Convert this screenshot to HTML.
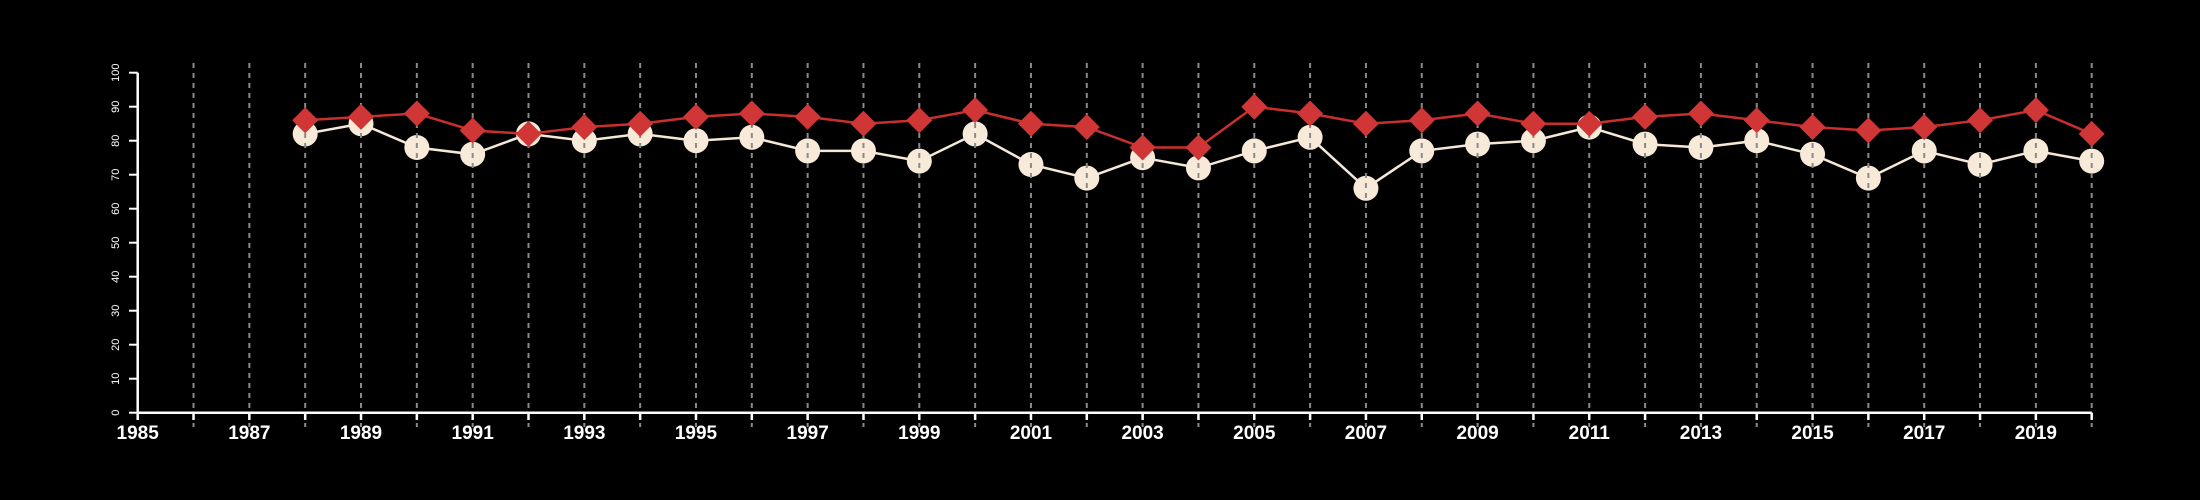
<!DOCTYPE html>
<html><head><meta charset="utf-8"><style>
html,body{margin:0;padding:0;background:#000;}
svg{display:block;}
</style></head><body>
<svg id="chart" width="2200" height="500" xmlns="http://www.w3.org/2000/svg">
<rect width="2200" height="500" fill="#000"/>
<g id="gWhite"></g><g id="gGrid"></g><g id="gRed"></g><g id="gAxes"></g>
</svg>
<script>
const years = [1988,1989,1990,1991,1992,1993,1994,1995,1996,1997,1998,1999,2000,2001,2002,2003,2004,2005,2006,2007,2008,2009,2010,2011,2012,2013,2014,2015,2016,2017,2018,2019,2020];
const redSeries = [86,87,88,83,82,84,85,87,88,87,85,86,89,85,84,78,78,90,88,85,86,88,85,85,87,88,86,84,83,84,86,89,82];
const whiteSeries = [82,85,78,76,82,80,82,80,81,77,77,74,82,73,69,75,72,77,81,66,77,79,80,84,79,78,80,76,69,77,73,77,74];
const yTicks = [0,10,20,30,40,50,60,70,80,90,100];
const xTickYears = [1985,1986,1987,1988,1989,1990,1991,1992,1993,1994,1995,1996,1997,1998,1999,2000,2001,2002,2003,2004,2005,2006,2007,2008,2009,2010,2011,2012,2013,2014,2015,2016,2017,2018,2019,2020];
const xLabelYears = [1985,1987,1989,1991,1993,1995,1997,1999,2001,2003,2005,2007,2009,2011,2013,2015,2017,2019];

const NS="http://www.w3.org/2000/svg";
const x0=137.7, x1=2091.7, yr0=1985, yr1=2020;
const yb=412.7, yt=72.7;
const X=v=>x0+(v-yr0)/(yr1-yr0)*(x1-x0);
const Y=v=>yb-(v/100)*(yb-yt);
function mk(tag,attrs,parent){const e=document.createElementNS(NS,tag);for(const k in attrs)e.setAttribute(k,attrs[k]);parent.appendChild(e);return e;}

const gW=document.getElementById('gWhite'),gG=document.getElementById('gGrid'),gR=document.getElementById('gRed'),gA=document.getElementById('gAxes');

// white series
let pw=mk('polyline',{points:years.map((y,i)=>X(y)+','+Y(whiteSeries[i])).join(' '),fill:'none',stroke:'#f5e8d6','stroke-width':2.5},gW);


years.forEach((y,i)=>{
  const c=mk('circle',{cx:X(y),cy:Y(whiteSeries[i]),r:12.5,fill:'#f8ead8'},gW);
  
  
});

// grid
xTickYears.slice(1).forEach(y=>{
  const l=mk('line',{x1:X(y),x2:X(y),y1:63,y2:427,stroke:'#8a8a8a','stroke-width':2,'stroke-dasharray':'5,5'},gG);
  
  
});

// red series
let pr=mk('polyline',{points:years.map((y,i)=>X(y)+','+Y(redSeries[i])).join(' '),fill:'none',stroke:'#c92f2f','stroke-width':2.5},gR);


years.forEach((y,i)=>{
  const cx=X(y),cy=Y(redSeries[i]),d=13;
  const p=mk('polygon',{points:`${cx},${cy-d} ${cx+d},${cy} ${cx},${cy+d} ${cx-d},${cy}`,fill:'#d03636'},gR);
  
  
});

// axes
let ax=mk('line',{x1:x0,x2:x1,y1:yb,y2:yb,stroke:'#fff','stroke-width':2.5},gA);


let ay=mk('line',{x1:x0,x2:x0,y1:yt,y2:yb,stroke:'#fff','stroke-width':2.5},gA);


xTickYears.forEach(y=>{
  const t=mk('line',{x1:X(y),x2:X(y),y1:yb,y2:420,stroke:'#fff','stroke-width':2.5},gA);
  
  
});
xLabelYears.forEach(y=>{
  const t=mk('text',{x:X(y),y:439,'text-anchor':'middle',fill:'#fff','font-family':'Liberation Sans, sans-serif','font-size':19,'font-weight':'bold'},gA);
  t.textContent=y;
  
  
});
yTicks.forEach(v=>{
  const t=mk('line',{x1:129,x2:x0,y1:Y(v),y2:Y(v),stroke:'#fff','stroke-width':2},gA);
  
  
  const tx=mk('text',{x:0,y:0,transform:`translate(119,${Y(v)}) rotate(-90)`,'text-anchor':'middle',fill:'#fff','font-family':'Liberation Sans, sans-serif','font-size':11},gA);
  tx.textContent=v;
  
  
});
</script>
</body></html>
